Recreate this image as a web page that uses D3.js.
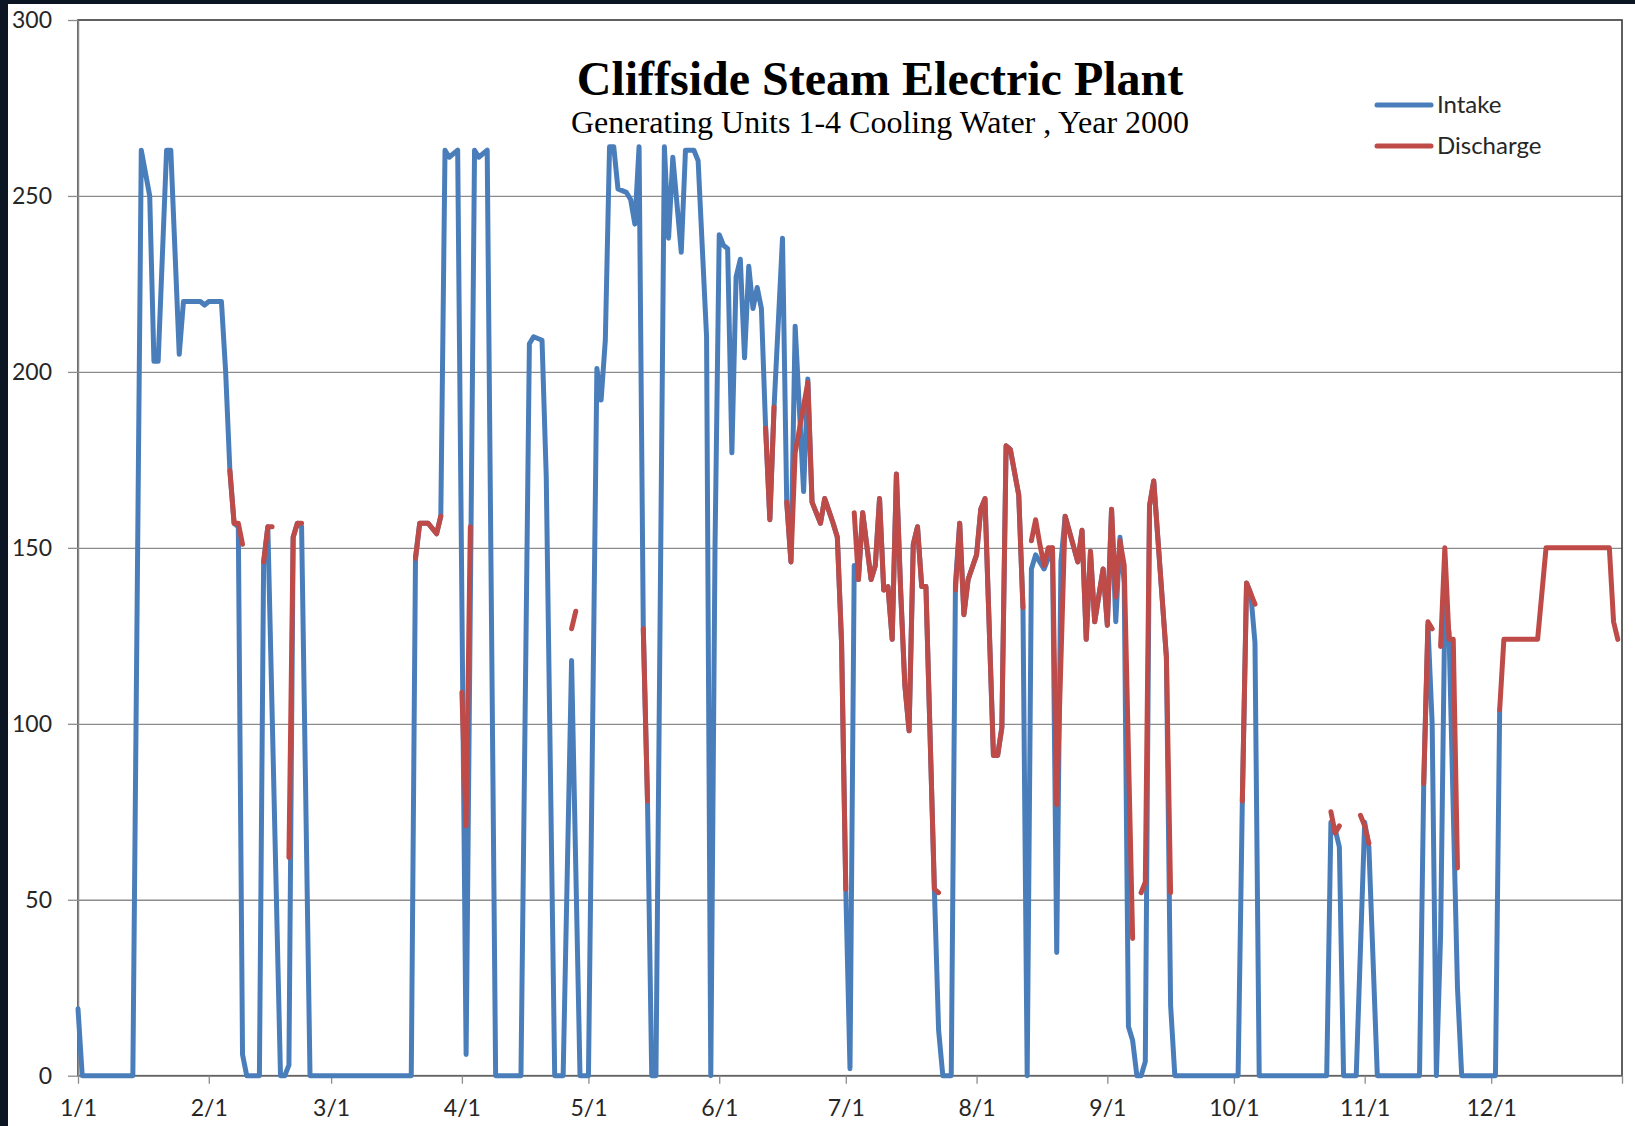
<!DOCTYPE html>
<html>
<head>
<meta charset="utf-8">
<script src="https://cdn.jsdelivr.net/npm/d3@7"></script>
<style>
  body { margin: 0; background: #0b1524; }
  svg { display: block; }
</style>
</head>
<body>
<svg width="1635" height="1126"></svg>
<script>
(function (d3) {
  'use strict';

  // [day of year (0 = 1/1), value]; null breaks a line
  const intake = [
    [0,19],[1,0],[13,0],[15,263],[17,250],[18,203],[19,203],[21,263],[22,263],[24,205],[25,220],
    [29,220],[30,219],[31,220],[34,220],[35,200],[36,172],[37,157],[38,156],[39,6],[40,0],[43,0],
    [44,146],[45,156],[48,0],[49,0],[50,3],[51,153],[52,157],[53,156],[55,0],
    [79,0],[80,147],[81,157],[83,157],[85,154],[86,159],[87,263],[88,261],[90,263],[92,6],[94,263],
    [95,261],[97,263],[99,0],[105,0],[107,208],[108,210],[110,209],[111,170],[113,0],[115,0],
    [117,118],[119,0],[121,0],[123,201],[124,192],[125,209],[126,264],[127,264],[128,252],[130,251],
    [131,249],[132,242],[133,264],[134,127],[135,78],[136,0],[137,0],[139,264],[140,238],[141,261],
    [143,234],[144,263],[146,263],[147,260],[149,210],[150,0],[151,150],[152,239],[153,236],[154,235],
    [155,177],[156,227],[157,232],[158,204],[159,230],[160,218],[161,224],[162,218],[163,184],
    [164,158],[165,190],[167,238],[168,163],[169,146],[170,213],[172,166],[173,198],[174,163],
    [176,157],[177,164],[179,157],[180,153],[181,123],[182,53],[183,2],[184,145],[185,141],[186,160],
    [188,141],[189,145],[190,164],[191,138],[192,139],[193,124],[194,171],[195,138],[196,111],
    [197,98],[198,151],[199,156],[200,139],[201,139],[203,53],[204,13],[205,0],[207,0],[208,140],
    [209,157],[210,131],[211,141],[213,148],[214,161],[215,164],[217,91],[218,91],[219,99],[220,179],
    [221,178],[223,165],[224,133],[225,0],[226,144],[227,148],[229,144],[231,150],[232,35],[233,146],
    [234,159],[237,146],[238,155],[239,124],[240,149],[241,129],[243,144],[244,128],[245,161],
    [246,129],[247,153],[248,140],[249,14],[250,10],[251,0],[252,0],[253,4],[254,162],[255,169],
    [258,119],[259,20],[260,0],[275,0],[276,78],[277,140],[278,137],[279,123],[280,0],[296,0],
    [297,72],[298,70],[299,65],[300,0],[303,0],[305,72],[306,65],[308,0],[318,0],[319,83],[320,128],
    [321,100],[322,0],[323,40],[324,133],[325,126],[327,25],[328,0],[336,0],[337,104]
  ];

  const discharge = [
    [36,172],[37,157],[38,157],[39,151],[40,null],
    [44,146],[45,156],[46,156],[47,null],
    [50,62],[51,153],[52,157],[53,157],[54,null],
    [80,147],[81,157],[83,157],[85,154],[86,159],[87,null],
    [91,109],[92,71],[93,156],[94,null],
    [117,127],[118,132],[119,null],
    [134,127],[135,78],[136,null],
    [163,184],[164,158],[165,190],[166,null],
    [168,163],[169,146],[170,177],[173,197],[174,163],[176,157],[177,164],[179,157],[180,153],
    [181,123],[182,53],[183,null],
    [184,160],[185,141],[186,160],[188,141],[189,145],[190,164],[191,138],[192,139],[193,124],
    [194,171],[195,138],[196,111],[197,98],[198,151],[199,156],[200,139],[201,139],[203,53],[204,52],
    [205,null],
    [208,138],[209,157],[210,131],[211,141],[213,148],[214,161],[215,164],[217,91],[218,91],[219,99],
    [220,179],[221,178],[223,165],[224,133],[225,null],
    [226,152],[227,158],[228,151],[229,145],[230,150],[231,150],[232,77],[234,159],[237,146],
    [238,155],[239,124],[240,149],[241,129],[243,144],[244,128],[245,161],[246,136],[247,152],
    [248,145],[250,39],[251,null],
    [252,52],[253,55],[254,162],[255,169],[258,119],[259,52],[260,null],
    [276,78],[277,140],[278,137],[279,134],[280,null],
    [297,75],[298,69],[299,71],[300,null],
    [304,74],[305,71],[306,66],[307,null],
    [319,83],[320,129],[321,127],[322,null],
    [323,122],[324,150],[325,124],[326,124],[327,59],[328,null],
    [337,104],[338,124],[346,124],[348,150],[363,150],[364,129],[365,124]
  ];

  const yTicks = [0, 50, 100, 150, 200, 250, 300];
  const monthLabels = ['1/1','2/1','3/1','4/1','5/1','6/1','7/1','8/1','9/1','10/1','11/1','12/1'];
  const seriesNames = ['Intake', 'Discharge'];
  const titleText = 'Cliffside Steam Electric Plant';
  const subtitleText = 'Generating Units 1-4 Cooling Water , Year 2000';

  const colors = { Intake: '#4a7ebb', Discharge: '#be4b48' };
  const labelFont = 'Lato, "Open Sans", sans-serif';

  const svg = d3.select('svg');
  const width = +svg.attr('width');
  const height = +svg.attr('height');
  const margin = { top: 20, right: 13, bottom: 50.3, left: 78 };
  const innerWidth = width - margin.left - margin.right;
  const innerHeight = height - margin.top - margin.bottom;

  // dark slide edge + white chart area
  svg.append('rect').attr('width', width).attr('height', height).attr('fill', '#0b1524');
  svg.append('rect')
    .attr('x', 8).attr('y', 4)
    .attr('width', width - 8).attr('height', height - 4)
    .attr('fill', '#ffffff');

  const yearStart = new Date(Date.UTC(2000, 0, 1));
  const yearEnd = d3.utcYear.offset(yearStart, 1);
  const toDate = day => d3.utcDay.offset(yearStart, day);

  const xScale = d3.scaleUtc().domain([yearStart, yearEnd]).range([0, innerWidth]);
  const yScale = d3.scaleLinear().domain([0, 300]).range([innerHeight, 0]);

  const g = svg.append('g')
    .attr('transform', `translate(${margin.left},${margin.top})`);

  // gridlines
  g.append('g')
    .attr('class', 'grid')
    .call(d3.axisLeft(yScale).tickValues(yTicks.slice(1, -1)).tickSize(-innerWidth).tickFormat(''))
    .call(s => s.select('.domain').remove())
    .selectAll('line')
      .attr('stroke', '#8c8c8c')
      .attr('stroke-width', 1.3);

  // plot area border (top / right read dark)
  g.append('rect')
    .attr('width', innerWidth)
    .attr('height', innerHeight)
    .attr('fill', 'none')
    .attr('stroke', '#3a3a3a')
    .attr('stroke-width', 1.6);

  const yAxisG = g.append('g')
    .call(d3.axisLeft(yScale).tickValues(yTicks).tickSize(10).tickPadding(16).tickSizeOuter(0));
  const xTickDates = d3.utcMonth.range(yearStart, yearEnd).concat([yearEnd]);
  const xAxisG = g.append('g')
    .attr('transform', `translate(0,${innerHeight})`)
    .call(d3.axisBottom(xScale)
      .tickValues(xTickDates)
      .tickSize(8)
      .tickPadding(16)
      .tickSizeOuter(0)
      .tickFormat((d, i) => monthLabels[i] || ''));

  [yAxisG, xAxisG].forEach(a => {
    a.select('.domain').attr('stroke', '#8c8c8c').attr('stroke-width', 1.5);
    a.selectAll('.tick line').attr('stroke', '#8c8c8c').attr('stroke-width', 1.3);
    a.selectAll('.tick text')
      .attr('fill', '#262626')
      .style('font-family', labelFont)
      .style('font-size', '23px');
  });

  const line = d3.line()
    .defined(d => d[1] !== null)
    .x(d => xScale(toDate(d[0])))
    .y(d => yScale(d[1]));

  const series = [
    { name: seriesNames[0], values: intake },
    { name: seriesNames[1], values: discharge }
  ];

  g.selectAll('.series').data(series)
    .enter().append('path')
      .attr('class', 'series')
      .attr('d', d => line(d.values))
      .attr('fill', 'none')
      .attr('stroke', d => colors[d.name])
      .attr('stroke-width', 5)
      .attr('stroke-linejoin', 'round')
      .attr('stroke-linecap', 'round');

  // title
  svg.append('text')
    .attr('x', 880).attr('y', 95)
    .attr('text-anchor', 'middle')
    .style('font-family', '"Liberation Serif", "Times New Roman", serif')
    .style('font-weight', 'bold')
    .style('font-size', '48px')
    .attr('fill', '#000')
    .text(titleText);

  svg.append('text')
    .attr('x', 880).attr('y', 133)
    .attr('text-anchor', 'middle')
    .style('font-family', '"Liberation Serif", "Times New Roman", serif')
    .style('font-size', '32px')
    .attr('fill', '#000')
    .text(subtitleText);

  // legend
  const legend = svg.append('g')
    .attr('transform', 'translate(1377,105)');
  const item = legend.selectAll('g').data(seriesNames)
    .enter().append('g')
      .attr('transform', (d, i) => `translate(0,${i * 41})`);
  item.append('line')
    .attr('x1', 0).attr('x2', 54)
    .attr('stroke', d => colors[d])
    .attr('stroke-width', 5)
    .attr('stroke-linecap', 'round');
  item.append('text')
    .attr('x', 60)
    .attr('dy', '0.35em')
    .attr('fill', '#262626')
    .style('font-family', labelFont)
    .style('font-size', '24px')
    .text(d => d);

}(d3));
</script>
</body>
</html>
